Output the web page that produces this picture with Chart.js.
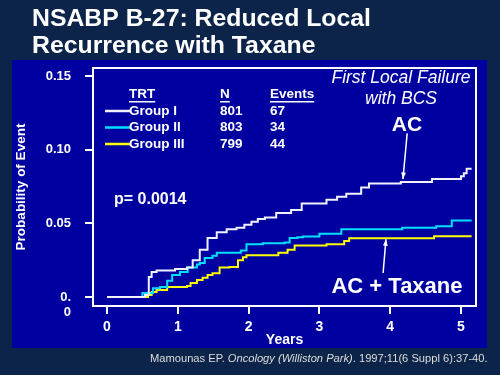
<!DOCTYPE html>
<html>
<head>
<meta charset="utf-8">
<script src="https://cdn.jsdelivr.net/npm/chart.js@4.4.1/dist/chart.umd.min.js"></script>
<style>
  html, body { margin: 0; padding: 0; background: #0c2449; }
  #wrap { width: 500px; height: 375px; }
</style>
</head>
<body>
<div id="wrap"><canvas id="kmChart" width="500" height="375"></canvas></div>
<script>
// Data (years since randomisation, probability of event)
const groupIYears = [0, 0.46, 0.535, 0.59, 0.63, 0.70, 0.96, 1.13, 1.21, 1.31, 1.42, 1.55, 1.69, 1.83, 1.94, 2.04, 2.13, 2.23, 2.39, 2.60, 2.75, 3.10, 3.25, 3.38, 3.59, 3.70, 4.15, 4.59, 5.00, 5.04, 5.08, 5.15];
const groupIProb = [0, 0, 0.0014, 0.0135, 0.017, 0.018, 0.019, 0.020, 0.025, 0.032, 0.040, 0.044, 0.046, 0.047, 0.049, 0.051, 0.053, 0.054, 0.057, 0.059, 0.0635, 0.066, 0.068, 0.070, 0.0743, 0.077, 0.078, 0.080, 0.082, 0.084, 0.087, 0.087];

const groupIIYears = [0, 0.46, 0.50, 0.65, 0.75, 0.85, 0.92, 1.03, 1.14, 1.27, 1.31, 1.38, 1.49, 1.55, 1.89, 1.97, 2.20, 2.51, 2.58, 2.69, 2.77, 3.00, 3.31, 4.17, 4.65, 4.87, 5.15];
const groupIIProb = [0, 0, 0.0027, 0.006, 0.0068, 0.011, 0.015, 0.017, 0.020, 0.022, 0.023, 0.0265, 0.028, 0.030, 0.0315, 0.0358, 0.0365, 0.037, 0.040, 0.0405, 0.041, 0.043, 0.046, 0.047, 0.048, 0.052, 0.052];

const groupIIIYears = [0, 0.50, 0.58, 0.63, 0.70, 0.85, 1.13, 1.18, 1.27, 1.35, 1.42, 1.49, 1.59, 1.73, 1.85, 1.92, 1.97, 2.37, 2.42, 2.55, 2.65, 3.10, 3.35, 3.42, 4.58, 4.62, 5.15];
const groupIIIProb = [0, 0, 0.0014, 0.0034, 0.0047, 0.0068, 0.0074, 0.0095, 0.0115, 0.013, 0.0149, 0.0162, 0.020, 0.0203, 0.025, 0.027, 0.0284, 0.0284, 0.030, 0.032, 0.035, 0.0358, 0.038, 0.0399, 0.0399, 0.0413, 0.0413];

// Legend table
const groupNames = ['Group I', 'Group II', 'Group III'];
const groupN = ['801', '803', '799'];
const groupEvents = ['67', '34', '44'];
const groupColors = ['#f2f2ff', '#00e1ff', '#ffff00'];

// Axis ticks
const xTickStep = 1;
const yTickStep = 0.05;

const titleLines = ['NSABP B-27: Reduced Local', 'Recurrence with Taxane'];
const FONT = '"Liberation Sans", Arial, sans-serif';

function toPoints(xs, ys) {
  return xs.map((x, i) => ({ x: x, y: ys[i] }));
}

function drawArrow(ctx, x1, y1, x2, y2) {
  const angle = Math.atan2(y2 - y1, x2 - x1);
  const head = 7;
  ctx.beginPath();
  ctx.moveTo(x1, y1);
  ctx.lineTo(x2, y2);
  ctx.stroke();
  ctx.beginPath();
  ctx.moveTo(x2, y2);
  ctx.lineTo(x2 - head * Math.cos(angle - 0.35), y2 - head * Math.sin(angle - 0.35));
  ctx.lineTo(x2 - head * Math.cos(angle + 0.35), y2 - head * Math.sin(angle + 0.35));
  ctx.closePath();
  ctx.fill();
}

// Slide background + blue panel
const slideBackground = {
  id: 'slideBackground',
  beforeDraw(chart) {
    const ctx = chart.ctx;
    ctx.save();
    ctx.fillStyle = '#0c2449';
    ctx.fillRect(0, 0, chart.width, chart.height);
    ctx.fillStyle = '#0000a0';
    ctx.fillRect(12, 60, 475, 288);
    ctx.restore();
  },
};

// Box, title, legend table, annotations and citation
const slideOverlay = {
  id: 'slideOverlay',
  afterDraw(chart) {
    const ctx = chart.ctx;
    const area = chart.chartArea;
    const xs = chart.scales.x;
    const ys = chart.scales.y;
    ctx.save();

    //Plot frame
    ctx.strokeStyle = '#ffffff';
    ctx.lineWidth = 2;
    ctx.strokeRect(area.left, area.top, area.right - area.left, area.bottom - area.top);

    //Slide title
    ctx.fillStyle = '#ffffff';
    ctx.textAlign = 'left';
    ctx.textBaseline = 'alphabetic';
    ctx.font = 'bold 24.8px ' + FONT;
    ctx.fillText(titleLines[0], 32, 25.5);
    ctx.fillText(titleLines[1], 32, 52.5);

    //Legend table
    ctx.font = 'bold 13.5px ' + FONT;
    ctx.textBaseline = 'middle';
    const headY = 94;
    const headers = [['TRT', 129], ['N', 220], ['Events', 270]];
    headers.forEach(([txt, x]) => {
      ctx.fillText(txt, x, headY);
      const w = ctx.measureText(txt).width;
      ctx.fillRect(x, headY + 7, w, 1.5);
    });
    groupNames.forEach((name, i) => {
      const y = 111 + i * 16.5;
      ctx.strokeStyle = groupColors[i];
      ctx.lineWidth = 2.5;
      ctx.beginPath();
      ctx.moveTo(105, y);
      ctx.lineTo(130, y);
      ctx.stroke();
      ctx.fillStyle = '#ffffff';
      ctx.fillText(name, 129, y);
      ctx.fillText(groupN[i], 220, y);
      ctx.fillText(groupEvents[i], 270, y);
    });

    //p value
    ctx.font = 'bold 16px ' + FONT;
    ctx.fillText('p= 0.0014', 114, 200);

    //Endpoint caption
    ctx.font = 'italic 17.5px ' + FONT;
    ctx.textAlign = 'center';
    ctx.fillText('First Local Failure', 401, 78);
    ctx.fillText('with BCS', 401, 99);

    //Arm labels and arrows
    ctx.font = 'bold 21px ' + FONT;
    ctx.fillText('AC', 407, 125);
    ctx.font = 'bold 22px ' + FONT;
    ctx.fillText('AC + Taxane', 397, 287);

    ctx.strokeStyle = '#ffffff';
    ctx.fillStyle = '#ffffff';
    ctx.lineWidth = 1.5;
    drawArrow(ctx, xs.getPixelForValue(4.24), ys.getPixelForValue(0.111),
      xs.getPixelForValue(4.18), ys.getPixelForValue(0.0800));
    drawArrow(ctx, xs.getPixelForValue(3.90), ys.getPixelForValue(0.0163),
      xs.getPixelForValue(3.94), ys.getPixelForValue(0.0392));

    //Citation
    ctx.textAlign = 'left';
    ctx.textBaseline = 'alphabetic';
    ctx.fillStyle = '#dcdcdc';
    const parts = [
      ['Mamounas EP. ', ''],
      ['Oncology (Williston Park)', 'italic '],
      ['. 1997;11(6 Suppl 6):37-40.', ''],
    ];
    let cx = 150;
    parts.forEach(([txt, style]) => {
      ctx.font = style + '11.15px ' + FONT;
      ctx.fillText(txt, cx, 362);
      cx += ctx.measureText(txt).width;
    });

    ctx.restore();
  },
};

function createChart() {
  const ctx = document.getElementById('kmChart').getContext('2d');
  /* global Chart */
  return new Chart(ctx, {
    type: 'line',
    data: {
      datasets: [
        { label: groupNames[0], data: toPoints(groupIYears, groupIProb), borderColor: groupColors[0] },
        { label: groupNames[1], data: toPoints(groupIIYears, groupIIProb), borderColor: groupColors[1] },
        { label: groupNames[2], data: toPoints(groupIIIYears, groupIIIProb), borderColor: groupColors[2] },
      ],
    },
    options: {
      responsive: false,
      animation: false,
      devicePixelRatio: 1,
      datasets: {
        line: { stepped: true, borderWidth: 2, pointRadius: 0, fill: false },
      },
      layout: { padding: { top: 68, right: 24, left: 0, bottom: 0 } },
      plugins: {
        legend: { display: false },
        title: { display: false },
        tooltip: { enabled: false },
      },
      scales: {
        x: {
          type: 'linear',
          min: -0.198,
          max: 5.212,
          afterFit: (scale) => { scale.height = 69; },
          border: { display: false },
          grid: { drawOnChartArea: false, drawTicks: true, tickLength: 8, color: '#ffffff', lineWidth: 2 },
          ticks: {
            stepSize: xTickStep,
            includeBounds: false,
            padding: 5,
            color: '#ffffff',
            font: { family: FONT, size: 14, weight: 'bold' },
            callback: (v) => String(v),
          },
          title: {
            display: true,
            text: 'Years',
            color: '#ffffff',
            font: { family: FONT, size: 14, weight: 'bold' },
            padding: { top: 0, bottom: 26 },
          },
        },
        y: {
          min: -0.0061,
          max: 0.1554,
          afterFit: (scale) => { scale.width = 93; },
          border: { display: false },
          grid: { drawOnChartArea: false, drawTicks: true, tickLength: 8, color: '#ffffff', lineWidth: 2 },
          ticks: {
            stepSize: yTickStep,
            includeBounds: false,
            padding: 14,
            color: '#ffffff',
            font: { family: FONT, size: 13, weight: 'bold' },
            // zero label wraps onto a second line below the tick, as on the slide
            callback: (v) => (Math.abs(v) < 1e-9 ? ['', '0.', '0'] : v.toFixed(2)),
          },
          title: {
            display: true,
            text: 'Probability of Event',
            color: '#ffffff',
            font: { family: FONT, size: 13.5, weight: 'bold' },
            padding: { top: 13, bottom: 0 },
          },
        },
      },
    },
    plugins: [slideBackground, slideOverlay],
  });
}

createChart();
</script>
</body>
</html>
